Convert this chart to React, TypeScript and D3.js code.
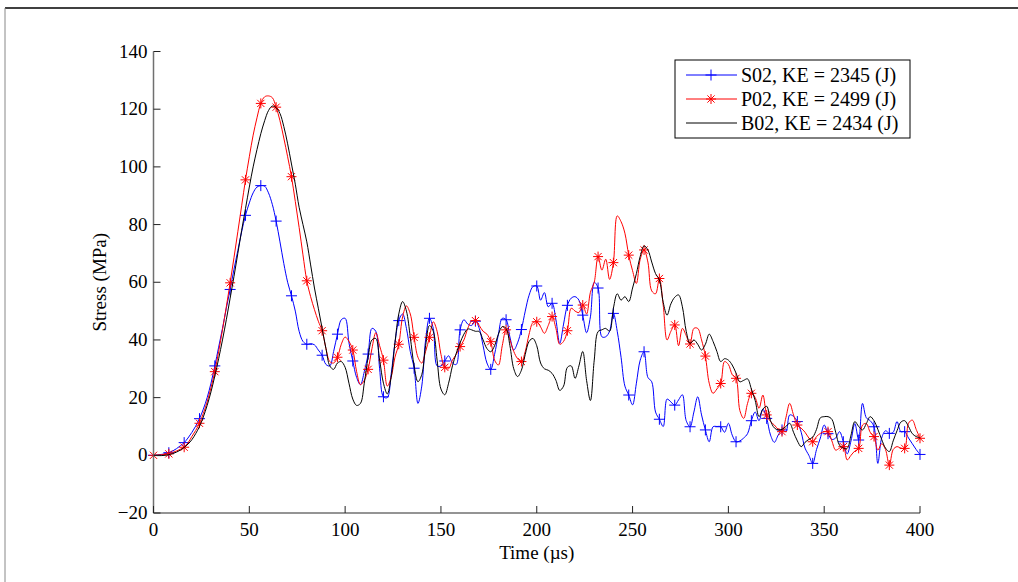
import React from "react";
import * as d3 from "d3";

// time axis: samples every 2 µs from 0 to 400
const timeStep = 2;
const timeMax = 400;

// S02 (blue, + markers)
const s02 = [
  0, 0.1, 0.3, 0.5, 0.9, 1.5, 2.3, 3.3, 4.4, 6.0,
  7.9, 10.1, 12.7, 16.0, 20.0, 25.0, 31.0, 37.5, 44.0, 51.0,
  57.5, 64.5, 71.0, 77.5, 83.2, 87.5, 91.0, 93.0, 93.5, 93.3,
  91.0, 87.0, 81.2, 74.0, 66.5, 60.0, 55.3, 50.0, 43.0, 39.5,
  38.5, 38.7, 38.3, 36.5, 34.7, 31.5, 31.0, 36.0, 42.0, 47.0,
  47.5, 39.0, 32.7, 27.0, 24.5, 29.0, 35.1, 44.0, 43.0, 30.0,
  20.3, 20.0, 28.0, 39.0, 46.7, 49.0, 44.0, 36.0, 30.2, 18.0,
  24.0, 40.0, 47.5, 44.0, 31.0, 31.0, 32.7, 34.5, 32.0, 31.5,
  43.5, 47.0, 45.5, 45.0, 46.5, 44.0, 38.0, 32.0, 29.8, 35.0,
  42.0, 47.5, 47.0, 41.0, 36.5, 39.0, 43.6, 50.0, 55.5, 58.5,
  58.7, 53.8, 56.4, 51.5, 52.7, 47.0, 38.8, 45.5, 52.0, 54.5,
  55.0, 53.8, 48.6, 42.5, 48.0, 60.0, 58.0, 41.1, 41.1, 43.0,
  49.2, 43.0, 34.0, 24.0, 20.9, 17.5, 25.0, 33.0, 35.9, 27.0,
  25.5, 15.0, 12.5, 10.0, 19.5, 18.5, 17.4, 19.2, 21.0, 12.0,
  9.9, 15.0, 20.3, 14.0, 8.8, 4.7, 9.9, 10.0, 9.9, 8.0,
  11.1, 7.0, 4.7, 5.0, 6.0, 7.5, 12.0, 15.0, 12.0, 16.0,
  12.8, 7.0, 4.5, 7.0, 8.8, 8.2, 14.0, 13.5, 11.7, 8.0,
  2.5, 0.0, -2.8, 2.0, 6.0, 10.5, 7.5, 5.5, 6.0, 8.2,
  4.7, 0.5, 5.0, 11.0, 5.3, 18.0, 13.0, 12.0, 9.9, -2.8,
  6.0, 8.5, 7.6, 8.0, 11.7, 8.2, 8.2, 6.0, 4.0, 2.0,
  0.3,
];

// P02 (red, * markers)
const p02 = [
  0, 0.1, 0.2, 0.3, 0.5, 1.0, 1.5, 2.1, 2.8, 4.3,
  6.5, 8.6, 11.1, 14.5, 18.5, 23.5, 29.0, 36.0, 43.5, 51.5,
  59.8, 68.5, 77.5, 86.5, 95.5, 103.5, 111.0, 117.0, 122.0, 124.3,
  124.6, 124.0, 120.7, 116.0, 110.0, 103.5, 96.6, 88.0, 79.0, 69.5,
  60.5, 55.0, 50.5, 46.5, 43.2, 37.0, 32.5, 32.0, 34.0, 38.5,
  41.0, 39.5, 36.5, 29.0, 24.5, 26.0, 29.8, 37.0, 42.5, 38.0,
  33.0, 24.0, 27.0, 34.0, 38.5, 48.0, 51.8, 49.0, 40.9, 34.0,
  32.0, 36.0, 40.9, 46.3, 43.0, 35.0, 30.5, 30.0, 33.0, 35.0,
  37.7, 40.0, 44.0, 46.5, 46.7, 45.0, 43.0, 42.0, 39.4, 33.0,
  31.3, 38.0, 43.5, 40.0, 36.0, 33.5, 32.5, 36.0, 42.0, 46.0,
  46.3, 44.5, 42.3, 45.0, 48.1, 44.0, 38.5, 39.5, 43.2, 51.0,
  50.0, 49.5, 52.1, 49.0, 56.5, 60.0, 68.9, 64.2, 68.0, 61.0,
  66.8, 83.0, 81.0, 77.0, 69.4, 64.0, 59.6, 68.0, 71.2, 67.0,
  57.0, 56.0, 61.3, 52.0, 40.0, 43.0, 45.2, 38.0, 44.0, 41.5,
  38.6, 44.0, 44.0, 40.0, 34.4, 25.0, 21.5, 23.0, 24.9, 32.5,
  31.5, 28.0, 26.7, 15.5, 12.8, 18.0, 21.5, 20.0, 16.3, 20.9,
  14.0, 11.7, 10.5, 9.0, 8.2, 13.0, 18.0, 14.0, 10.5, 9.4,
  8.0, 6.0, 4.7, 6.5, 7.6, 8.2, 8.2, 5.0, 1.8, 2.5,
  3.0, -1.6, 0.0, 1.5, 2.4, 10.5, 11.0, 8.0, 6.5, 1.8,
  4.0, 2.0, -3.4, 2.0, 3.0, 2.5, 2.4, 11.1, 12.2, 9.0,
  5.9,
];

// B02 (black, no markers)
const b02 = [
  0, -0.1, -0.1, 0.0, 0.2, 0.6, 1.1, 1.8, 2.7, 3.9,
  5.4, 7.5, 10.0, 13.3, 17.3, 22.0, 27.5, 33.5, 40.0, 47.0,
  54.5, 62.0, 70.0, 78.0, 85.5, 93.0, 100.0, 106.0, 111.5, 116.0,
  119.5, 121.1, 120.5, 118.5, 114.0, 108.0, 101.0, 94.0, 86.0, 80.0,
  74.0, 66.0, 58.0, 51.0, 44.0, 37.0, 31.0, 29.8, 32.0, 32.5,
  30.5, 25.0, 19.5, 17.3, 18.0, 25.0, 34.0, 40.0, 40.5, 33.0,
  25.0, 21.3, 27.0, 39.0, 49.0, 53.3, 50.0, 41.0, 31.0, 25.5,
  28.0, 38.0, 45.0, 43.0, 33.0, 23.0, 21.0, 25.0, 31.0, 35.4,
  39.0, 42.0, 43.8, 43.5, 43.0, 42.9, 40.0, 37.0, 35.9, 38.0,
  42.0, 44.6, 44.0, 38.0, 30.0, 27.3, 29.5, 35.0, 39.5, 40.5,
  38.0, 32.0, 30.0, 29.5, 28.4, 26.0, 22.5, 24.0, 30.5, 31.0,
  26.7, 31.0, 36.0, 26.0, 19.0, 33.0, 42.9, 43.5, 44.0, 43.0,
  51.0, 56.0, 53.8, 55.0, 53.3, 58.0, 63.0, 69.0, 72.6, 71.2,
  67.0, 63.0, 60.8, 53.0, 48.6, 52.5, 54.8, 55.6, 51.5, 43.0,
  38.8, 40.0, 38.5, 36.5, 38.5, 42.0, 39.5, 36.0, 32.5, 33.5,
  33.0, 31.3, 28.5, 25.5, 26.0, 26.5, 23.0, 19.0, 13.4, 16.0,
  17.0, 12.0, 9.5, 8.8, 9.0, 10.0, 11.1, 8.0, 5.0, 3.0,
  4.5, 5.5, 6.3, 9.0, 13.0, 13.4, 13.4, 12.5, 8.0, 3.5,
  2.5, 2.4, 7.0, 11.7, 10.0, 8.8, 11.0, 13.4, 12.0, 9.0,
  5.5, 2.5, 1.3, 5.0, 8.5, 11.5, 12.0, 10.0, 7.5, 6.5,
  6.0,
];

const xTicks = [0, 50, 100, 150, 200, 250, 300, 350, 400];
const yTicks = [-20, 0, 20, 40, 60, 80, 100, 120, 140];
const legendLabels = ["S02, KE = 2345 (J)", "P02, KE = 2499 (J)", "B02, KE = 2434 (J)"];

const W = 1018;
const H = 582;
const FONT = "'Liberation Serif', 'Times New Roman', serif";

function PlusMarker({ x, y, color }: { x: number; y: number; color: string }) {
  const r = 5.5;
  return (
    <path d={`M${x - r},${y}H${x + r}M${x},${y - r}V${y + r}`} stroke={color} strokeWidth={1} fill="none" />
  );
}

function StarMarker({ x, y, color }: { x: number; y: number; color: string }) {
  const r = 5;
  const d = r * 0.72;
  return (
    <path
      d={`M${x - r},${y}H${x + r}M${x},${y - r}V${y + r}M${x - d},${y - d}L${x + d},${y + d}M${x - d},${y + d}L${x + d},${y - d}`}
      stroke={color}
      strokeWidth={1}
      fill="none"
    />
  );
}

export default function App() {
  const x = d3.scaleLinear().domain([0, timeMax]).range([153.5, 920]);
  const y = d3.scaleLinear().domain([-20, 140]).range([513, 51.5]);
  const times = d3.range(0, timeMax + timeStep / 2, timeStep);

  const line = d3
    .line<number>()
    .x((_, i) => x(times[i]))
    .y((d) => y(d))
    .curve(d3.curveCatmullRom.alpha(0.5));

  const series = [
    { data: s02, color: "#0000ff", marker: "plus" },
    { data: p02, color: "#ff0000", marker: "star" },
    { data: b02, color: "#000000", marker: "none" },
  ];

  const axisColor = "#707070";
  const legX = 675, legY = 60, legW = 235, legH = 78;
  const rowY = [75, 99, 123];

  return (
    <svg width={W} height={H} style={{ position: "absolute", left: 0, top: 0, background: "#fff" }} fontFamily={FONT}>
      <rect x={0} y={0} width={W} height={H} fill="#fff" />
      {/* figure frame */}
      <line x1={5} y1={8} x2={W} y2={8} stroke="#000" strokeWidth={1.5} />
      <line x1={5} y1={8} x2={5} y2={H} stroke="#888" strokeWidth={1} />

      {/* series */}
      {series.map((s, si) => (
        <g key={si}>
          <path d={line(s.data) || ""} fill="none" stroke={s.color} strokeWidth={1} />
          {s.marker !== "none" &&
            s.data.map((v, i) =>
              times[i] % 8 === 0 ? (
                s.marker === "plus" ? (
                  <PlusMarker key={i} x={x(times[i])} y={y(v)} color={s.color} />
                ) : (
                  <StarMarker key={i} x={x(times[i])} y={y(v)} color={s.color} />
                )
              ) : null
            )}
        </g>
      ))}

      {/* axes */}
      <line x1={x(0)} y1={y(-20)} x2={x(400)} y2={y(-20)} stroke={axisColor} strokeWidth={1.5} />
      <line x1={x(0)} y1={y(-20)} x2={x(0)} y2={y(140)} stroke={axisColor} strokeWidth={1.5} />
      {xTicks.map((t) => (
        <g key={"x" + t}>
          <line x1={x(t)} y1={y(-20)} x2={x(t)} y2={y(-20) - 7} stroke="#222" strokeWidth={1} />
          <text x={x(t)} y={y(-20) + 23} textAnchor="middle" fontSize={19} fill="#000">
            {t}
          </text>
        </g>
      ))}
      {yTicks.map((t) => (
        <g key={"y" + t}>
          <line x1={x(0)} y1={y(t)} x2={x(0) + 7} y2={y(t)} stroke="#222" strokeWidth={1} />
          <text x={x(0) - 6} y={y(t) + 6} textAnchor="end" fontSize={19} fill="#000">
            {t < 0 ? "\u2212" + Math.abs(t) : t}
          </text>
        </g>
      ))}
      <text x={(x(0) + x(400)) / 2} y={559} textAnchor="middle" fontSize={19} fill="#000">
        Time (µs)
      </text>
      <text
        transform={`translate(106,${(y(-20) + y(140)) / 2}) rotate(-90)`}
        textAnchor="middle"
        fontSize={19}
        fill="#000"
      >
        Stress (MPa)
      </text>

      {/* legend */}
      <rect x={legX} y={legY} width={legW} height={legH} fill="#fff" stroke="#000" strokeWidth={1} />
      {series.map((s, i) => (
        <g key={"leg" + i}>
          <line x1={686} y1={rowY[i]} x2={737} y2={rowY[i]} stroke={s.color} strokeWidth={1} />
          {s.marker === "plus" && <PlusMarker x={711} y={rowY[i]} color={s.color} />}
          {s.marker === "star" && <StarMarker x={711} y={rowY[i]} color={s.color} />}
          <text x={741} y={rowY[i] + 7} fontSize={20} fill="#000">
            {legendLabels[i]}
          </text>
        </g>
      ))}
    </svg>
  );
}
